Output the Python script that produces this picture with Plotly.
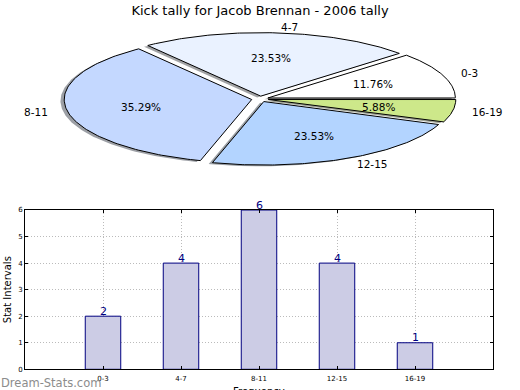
import numpy as np
import plotly.graph_objects as go

# ---------------- data ----------------
categories = ["0-3", "4-7", "8-11", "12-15", "16-19"]
kick_counts = [2, 4, 6, 4, 1]
y_tick_values = [0, 1, 2, 3, 4, 5, 6]
chart_title = "Kick tally for Jacob Brennan - 2006 tally"
x_title = "Frequency"
y_title = "Stat Intervals"
watermark = "Dream-Stats.com"

# ---------------- styles / geometry ----------------
pie_colors = ["#FFFFFF", "#EAF2FF", "#C4D8FF", "#B3D4FF", "#CDE88A"]
FONT = "DejaVu Sans"
W, H = 520, 390
CX, CY = 260.0, 99.0       # pie centre (pixel space of overlay axes)
RX, RY = 187.5, 63.5       # ellipse radii
EXPLODE = 0.045
SHADOW_DX, SHADOW_DY = -3.7, 1.3
LABEL_DIST, PCT_DIST = 1.1, 0.6

fig = go.Figure()
annotations = []

total = float(sum(kick_counts))
start = 0.0
for cat, val, col in zip(categories, kick_counts, pie_colors):
    frac = val / total
    a0 = start
    a1 = start + frac * 2 * np.pi
    start = a1
    mid = 0.5 * (a0 + a1)
    ox = CX + EXPLODE * RX * np.cos(mid)
    oy = CY - EXPLODE * RY * np.sin(mid)
    t = np.linspace(a0, a1, 120)
    xs = np.concatenate([[ox], ox + RX * np.cos(t), [ox]])
    ys = np.concatenate([[oy], oy - RY * np.sin(t), [oy]])
    r, g, b = int(col[1:3], 16), int(col[3:5], 16), int(col[5:7], 16)
    shadow = "rgba(%d,%d,%d,0.5)" % (0.3 * r, 0.3 * g, 0.3 * b)
    fig.add_trace(go.Scatter(x=xs + SHADOW_DX, y=ys + SHADOW_DY, mode="lines",
                             fill="toself", fillcolor=shadow, line=dict(width=0),
                             hoverinfo="skip", showlegend=False, xaxis="x", yaxis="y"))
    fig.add_trace(go.Scatter(x=xs, y=ys, mode="lines", fill="toself", fillcolor=col,
                             line=dict(color="black", width=1), name=cat,
                             hoverinfo="name", showlegend=False, xaxis="x", yaxis="y"))
    # outer label
    lx = ox + LABEL_DIST * RX * np.cos(mid)
    ly = oy - LABEL_DIST * RY * np.sin(mid)
    annotations.append(dict(x=lx, y=ly, xref="x", yref="y", text=cat, showarrow=False,
                            xanchor="left" if np.cos(mid) >= 0 else "right",
                            yanchor="middle", borderpad=0,
                            font=dict(family=FONT, size=10.5, color="black")))
    # percentage label
    px = ox + PCT_DIST * RX * np.cos(mid)
    py = oy - PCT_DIST * RY * np.sin(mid)
    annotations.append(dict(x=px, y=py, xref="x", yref="y",
                            text="%.2f%%" % (100 * frac), showarrow=False,
                            xanchor="center", yanchor="middle", borderpad=0,
                            font=dict(family=FONT, size=10.5, color="black")))

# ---------------- bar chart ----------------
fig.add_trace(go.Bar(x=categories, y=kick_counts, width=0.455,
                     marker=dict(color="#CCCCE5", line=dict(color="#000080", width=1)),
                     cliponaxis=False, showlegend=False, xaxis="x2", yaxis="y2"))

for cat, val in zip(categories, kick_counts):
    annotations.append(dict(x=cat, y=val, xref="x2", yref="y2", text=str(val),
                            showarrow=False, xanchor="center", yanchor="middle",
                            yshift=5, borderpad=0,
                            font=dict(family=FONT, size=11, color="#000080")))

# x-axis title (partly cut by the bottom edge, as in the original)
annotations.append(dict(x=0.5 * (25 + 493) / W, y=(H - 391) / H, xref="paper", yref="paper",
                        text=x_title, showarrow=False, xanchor="center", yanchor="middle",
                        borderpad=0, font=dict(family=FONT, size=10, color="black")))

annotations.append(dict(x=0, y=(H - 383) / H, xref="paper", yref="paper",
                        text=watermark, showarrow=False, xanchor="left", yanchor="middle",
                        borderpad=0, font=dict(family=FONT, size=11.5, color="#8C8C8C")))

axis_common = dict(showline=True, linecolor="black", linewidth=1, mirror="ticks",
                   ticks="inside", ticklen=3, tickcolor="black", automargin=False,
                   showgrid=True, gridcolor="#BBBBBB", griddash="1px,2px", gridwidth=1,
                   zeroline=False, tickfont=dict(family=FONT, size=7, color="black"))

fig.update_layout(
    width=W, height=H,
    margin=dict(l=0, r=0, t=0, b=0),
    paper_bgcolor="white", plot_bgcolor="white",
    font=dict(family=FONT, color="black"),
    title=dict(text=chart_title, x=0.5, xanchor="center", y=1 - 10.5 / H, yanchor="middle",
               automargin=False, font=dict(family=FONT, size=13, color="black")),
    xaxis=dict(domain=[0, 1], range=[0, W], visible=False, fixedrange=True, automargin=False),
    yaxis=dict(domain=[0, 1], range=[H, 0], visible=False, fixedrange=True, automargin=False),
    xaxis2=dict(domain=[25 / W, 493 / W], anchor="y2", type="category",
                range=[-1, len(categories)], ticklabelstandoff=2,
                **axis_common),
    yaxis2=dict(domain=[(H - 369.3) / H, (H - 210) / H], anchor="x2", range=[0, 6],
                tickvals=y_tick_values,
                title=dict(text=y_title, standoff=4, font=dict(family=FONT, size=10)),
                **axis_common),
    annotations=annotations,
    bargap=0.5,
)

fig.write_html("out.html", config={"displayModeBar": False},
               post_script="document.body.style.margin='0';document.body.style.overflow='hidden';")
